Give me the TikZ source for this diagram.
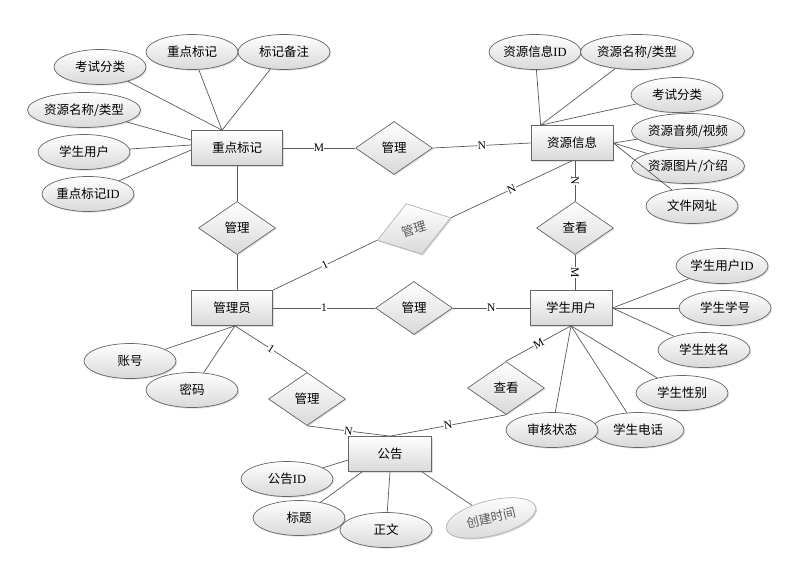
\documentclass[tikz,border=0pt]{standalone}
\usepackage{fontspec}
\setmainfont{Liberation Serif}
\newfontfamily\cjk{Noto Sans CJK SC}
\usetikzlibrary{shapes.geometric,shadows,calc}
\begin{document}
\begin{tikzpicture}[x=1pt,y=-1pt,
  base/.style={draw=black!60, line width=0.7pt, font=\cjk\fontsize{12.5}{14}\selectfont, text=black,
    top color=white, bottom color=black!15, inner sep=0pt,
    drop shadow={opacity=0.25, shadow xshift=1.2pt, shadow yshift=-1.2pt}},
  ent/.style={base, rectangle, minimum width=82, minimum height=35},
  attr/.style={base, ellipse, minimum width=92, minimum height=35},
  rel/.style={base, diamond, minimum width=77, minimum height=53},
  faint/.style={draw=black!30, text=black!65, drop shadow={opacity=0.12, shadow xshift=1.2pt, shadow yshift=-1.2pt}},
  con/.style={draw=black!65, line width=0.7pt},
  lbl/.style={fill=white, inner sep=0.3pt, font=\fontsize{11.5}{11.5}\selectfont, text=black, sloped}
]
\useasboundingbox (0,0) rectangle (789,563);

% entities
\node[ent, minimum width=91] (zd) at (237,148) {重点标记};
\node[ent] (zy) at (572,143) {资源信息};
\node[ent, minimum width=81] (gly) at (232,308) {管理员};
\node[ent] (xs) at (571,308) {学生用户};
\node[ent, minimum width=83] (gg) at (390,454) {公告};

% relations
\node[rel] (d1) at (394,148) {管理};
\node[rel] (d2) at (237,228) {管理};
\node[rel, faint, rotate=17] (d3) at (414,229) {管理};
\node[rel] (d4) at (414,308) {管理};
\node[rel] (d5) at (575,228) {查看};
\node[rel] (d6) at (506,388) {查看};
\node[rel] (d7) at (307,399) {管理};

% attributes of 重点标记
\node[attr] (a1) at (100,67) {考试分类};
\node[attr] (a2) at (192,52) {重点标记};
\node[attr] (a3) at (284,52) {标记备注};
\node[attr] (a4) at (84,110) {资源名称/类型};
\node[attr] (a5) at (84,152) {学生用户};
\node[attr] (a6) at (88,194) {重点标记{\rmfamily ID}};

% attributes of 资源信息
\node[attr] (b1) at (535,52) {资源信息{\rmfamily ID}};
\node[attr] (b2) at (637,52) {资源名称/类型};
\node[attr] (b3) at (677,95) {考试分类};
\node[attr] (b4) at (688,131) {资源音频/视频};
\node[attr] (b5) at (688,166) {资源图片/介绍};
\node[attr] (b6) at (692,206) {文件网址};

% attributes of 学生用户
\node[attr] (c1) at (722,266) {学生用户{\rmfamily ID}};
\node[attr] (c2) at (725,308) {学生学号};
\node[attr] (c3) at (704,350) {学生姓名};
\node[attr] (c4) at (682,393) {学生性别};
\node[attr] (c6) at (638,430) {学生电话};
\node[attr] (c5) at (552,430) {审核状态};

% attributes of 管理员
\node[attr] (e1) at (130,361) {账号};
\node[attr] (e2) at (192,390) {密码};

% attributes of 公告
\node[attr] (f1) at (287,479) {公告{\rmfamily ID}};
\node[attr] (f2) at (299,518) {标题};
\node[attr] (f3) at (386,530) {正文};
\node[attr, faint, rotate=14] (f4) at (491,518) {创建时间};

% attribute connectors
\coordinate (zdtop) at ($(zd.north)+(-15,0)$);
\foreach \a in {a1,a2,a3} \draw[con] (\a) -- (zdtop);
\draw[con] (a4) -- ($(zd.west)+(0,-8)$);
\draw[con] (a5) -- ($(zd.west)+(0,-3)$);
\draw[con] (a6) -- ($(zd.west)+(0,2)$);

\coordinate (zytop) at ($(zy.north west)+(10,0)$);
\draw[con] (b1) -- (zytop);
\draw[con] (b2) -- (zytop);
\draw[con] (b3) -- (zytop);
\draw[con] (b4) -- (zy.east);
\draw[con] (b5) -- (zy.east);
\draw[con] (b6) -- (zy.east);

\draw[con] (c1) -- (xs.east);
\draw[con] (c2) -- (xs.east);
\draw[con] (c3) -- (xs.east);
\draw[con] (c4) -- (xs.south);
\draw[con] (c5) -- (xs.south);
\draw[con] (c6) -- (xs.south);

\draw[con] (e1) -- ($(gly.south)+(3,0)$);
\draw[con] (e2) -- ($(gly.south)+(3,0)$);

\draw[con] (f1) -- ($(gg.west)+(0,6)$);
\draw[con] (f2) -- ($(gg.south west)+(14,0)$);
\draw[con] (f3) -- (gg.south);
\draw[con] (f4) -- ($(gg.south east)+(-10,0)$);

% relationship connectors
\draw[con] (zd.east) -- node[lbl]{M} (d1.west);
\draw[con] (d1.east) -- node[lbl]{N} (zy.west);
\draw[con] (zd.south) -- (d2.north);
\draw[con] (d2.south) -- (d2 |- gly.north);
\draw[con] (gly.north east) -- node[lbl]{1} (d3.west);
\draw[con] (d3.east) -- node[lbl]{N} (zy.south);
\draw[con] (gly.east) -- node[lbl]{1} (d4.west);
\draw[con] (d4.east) -- node[lbl]{N} (xs.west);
\draw[con] (d5 |- zy.south) -- node[lbl]{N} (d5.north);
\draw[con] (d5.south) -- node[lbl]{M} (d5 |- xs.north);
\draw[con] (xs.south) -- node[lbl]{M} (d6.north);
\draw[con] (d6.south) -- node[lbl]{N} (gg.north);
\draw[con] ($(gly.south)+(3,0)$) -- node[lbl]{1} (d7.north);
\draw[con] (d7.south) -- node[lbl]{N} (gg.north);
\end{tikzpicture}
\end{document}
